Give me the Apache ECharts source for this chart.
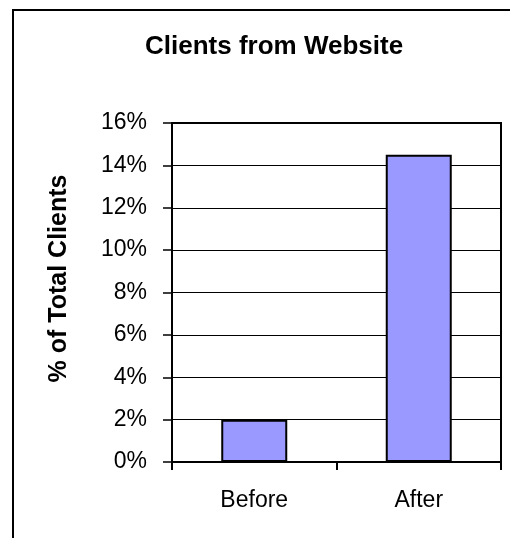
<!DOCTYPE html>
<html>
<head>
<meta charset="utf-8">
<script src="https://cdn.jsdelivr.net/npm/echarts@6/dist/echarts.min.js"></script>
<style>
  html, body { margin: 0; padding: 0; background: #fff; }
  #chart { width: 510px; height: 538px; }
</style>
</head>
<body>
<div id="chart"></div>
<script>
// data
const categories = ['Before', 'After']
const clientShare = [2, 14.5]   // % of total clients
const yMin = 0
const yMax = 16
const yStep = 2

const chart = echarts.init(document.getElementById('chart'))
const font = '"Liberation Sans", Arial, sans-serif'

const option = {
  backgroundColor: '#fff',
  animation: false,
  // outer chart-area frame (runs off the right/bottom edge in the original)
  graphic: [{
    type: 'rect',
    shape: { x: 13, y: 10, width: 700, height: 700 },
    style: { fill: 'none', stroke: '#000', lineWidth: 2 },
    silent: true
  }],
  title: {
    text: 'Clients from Website',
    left: 145,
    top: 34,
    padding: 0,
    textStyle: { fontFamily: font, fontSize: 26, fontWeight: 'bold', color: '#000' }
  },
  grid: {
    left: 172,
    top: 123,
    right: 9,
    bottom: 76,
    show: true,
    borderColor: '#000',
    borderWidth: 2,
    backgroundColor: 'transparent'
  },
  xAxis: {
    type: 'category',
    data: categories,
    axisLine: { lineStyle: { color: '#000', width: 2 } },
    axisTick: { show: true, length: 8, lineStyle: { color: '#000', width: 2 } },
    axisLabel: { fontFamily: font, fontSize: 23, color: '#000', margin: 27 }
  },
  yAxis: {
    type: 'value',
    min: yMin,
    max: yMax,
    interval: yStep,
    name: '% of Total Clients',
    nameLocation: 'middle',
    nameRotate: 90,
    nameGap: 100,
    nameTextStyle: { fontFamily: font, fontSize: 25, fontWeight: 'bold', color: '#000', padding: [0, 0, 0, 28] },
    axisLine: { show: true, lineStyle: { color: '#000', width: 2 } },
    axisTick: { show: true, length: 9, lineStyle: { color: '#000', width: 1.5 } },
    axisLabel: { fontFamily: font, fontSize: 23, color: '#000', margin: 25, formatter: '{value}%' },
    splitLine: { lineStyle: { color: '#000', width: 1 } }
  },
  series: [{
    type: 'bar',
    data: clientShare,
    barWidth: 66,
    itemStyle: { color: '#9999FF', borderColor: '#000', borderWidth: 2 }
  }]
}

chart.setOption(option)
window.addEventListener('resize', () => chart.resize())
</script>
</body>
</html>
